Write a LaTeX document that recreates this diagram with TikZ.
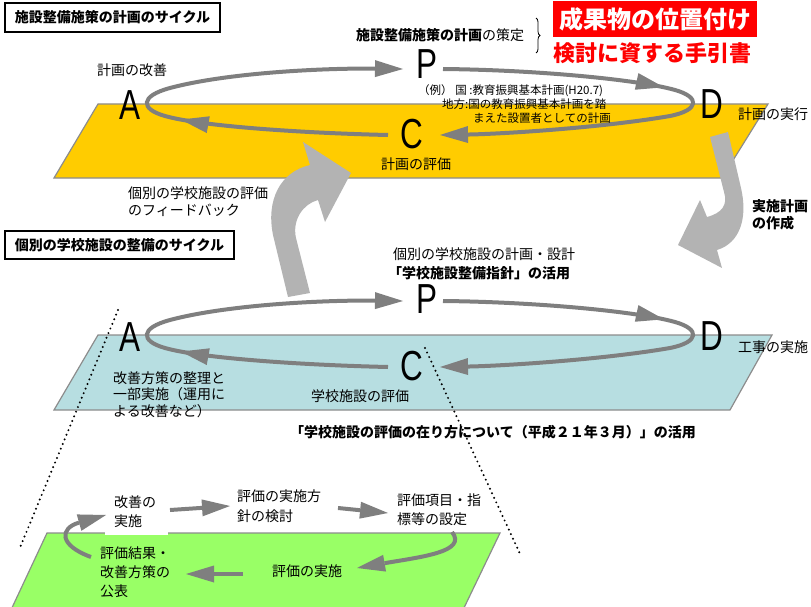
\documentclass[tikz,border=0pt]{standalone}
\usepackage{fontspec}
\setmainfont{Noto Sans CJK JP}
\newfontfamily\latinf{Liberation Sans}
\usetikzlibrary{arrows.meta,decorations.markings,decorations.pathreplacing}
\definecolor{cycgray}{HTML}{7F7F7F}
\definecolor{biggray}{HTML}{B3B3B3}
\definecolor{yel}{HTML}{FFCC00}
\definecolor{blu}{HTML}{B7DEE1}
\definecolor{grn}{HTML}{99FF66}
\definecolor{edgegray}{HTML}{8C8C8C}
\tikzset{
  txt/.style={inner sep=0pt, font=\fontsize{14}{17}\selectfont, align=left},
  smalltxt/.style={inner sep=0pt, font=\fontsize{11.5}{14}\selectfont, anchor=west},
  letter/.style={inner sep=0pt, font=\latinf\fontsize{42}{42}\selectfont},
  titlebox/.style={draw, line width=1.2pt, inner sep=0pt, font=\bfseries\fontsize{14}{17}\selectfont},
  plane/.style={draw=edgegray, line width=1.2pt},
  tip/.tip={Triangle[length=28pt,width=17pt,line width=0pt]},
  cycarrow/.style={draw=cycgray, line width=4pt, -tip},
  midarrow/.style={postaction=decorate, decoration={markings, mark=at position #1 with {\arrow{tip}}}},
  dotline/.style={line width=2.2pt, dash pattern=on 0pt off 5pt, line cap=round},
}
\begin{document}
\begin{tikzpicture}[x=1pt,y=-1pt]
\useasboundingbox (0,0) rectangle (811,607);

% planes
\draw[plane, fill=yel] (98,104) -- (768,104) -- (722,178) -- (54,178) -- cycle;
\draw[plane, fill=blu] (98,335) -- (772,335) -- (730,410) -- (54,410) -- cycle;
\draw[plane, fill=grn] (47,533) -- (500,533) -- (462,612) -- (10,612) -- cycle;

% dotted lines
\coordinate (dl1) at (118,310);
\coordinate (dl2) at (19,550);
\coordinate (dr1) at (425,348);
\coordinate (dr2) at (521,556);
\draw[dotline] (dl1) -- (dl2);
\draw[dotline] (dr1) -- (dr2);

% big gray arrows
\fill[biggray] (288,297) -- (273,235) .. controls (266,200) and (280,172) .. (310,165)
  -- (303,142) -- (351,173) -- (325,222) -- (318,200)
  .. controls (303,204) and (292,220) .. (296,238) -- (310,293) -- cycle;
\fill[biggray] (710,137) -- (728,132) -- (741,188) .. controls (748,218) and (740,243) .. (717,250)
  -- (722,268) -- (678,245) -- (700,200) -- (707,217)
  .. controls (722,213) and (728,205) .. (724,192) -- cycle;

% title boxes
\node[titlebox, minimum width=215pt, minimum height=29pt] (title1) at (112.5,17.5) {施設整備施策の計画のサイクル};
\node[titlebox, minimum width=229pt, minimum height=28pt] (title2) at (119.5,245) {個別の学校施設の整備のサイクル};

% top right
\node[fill=red, text=white, inner sep=0pt, minimum width=204pt, minimum height=36pt,
      font=\bfseries\fontsize{24}{26}\selectfont] (seika) at (655,19) {成果物の位置付け};
\node[text=red, inner sep=0pt, font=\bfseries\fontsize{22}{24}\selectfont] (tebiki) at (652,53) {検討に資する手引書};
\node[txt] (sakutei) at (440,35) {{\bfseries 施設整備施策の計画}の策定};
\coordinate (br1) at (536,18);
\coordinate (br2) at (536,53);
\draw[line width=0.8pt, decorate, decoration={brace, amplitude=4pt}] (br1) -- (br2);

% ---------- top cycle ----------
\node[letter] (A1) at (130,105) {\scalebox{0.75}[1]{A}};
\node[letter] (P1) at (427,64) {\scalebox{0.75}[1]{P}};
\node[letter] (D1) at (712,104) {\scalebox{0.75}[1]{D}};
\node[letter] (C1) at (412,134) {\scalebox{0.75}[1]{C}};
\coordinate (c1a) at (388,135);
\coordinate (c1b) at (403,69);
\coordinate (c1c) at (443,69);
\coordinate (c1d) at (440,135);
\draw[cycarrow, midarrow=208pt] (c1a) .. controls (300,133) and (200,126) .. (165,116)
   .. controls (140,109) and (140,96) .. (170,88) .. controls (230,72) and (330,68) .. (c1b);
\draw[cycarrow, midarrow=222pt] (c1c) .. controls (540,70) and (640,80) .. (675,90)
   .. controls (700,97) and (700,110) .. (670,116) .. controls (600,128) and (500,134) .. (c1d);

\node[txt] (kaizen) at (132,70) {計画の改善};
\node[smalltxt] (rei1) at (418,90.5) {（例） 国 :教育振興基本計画(H20.7)};
\node[smalltxt] (rei2) at (442,104.5) {地方:国の教育振興基本計画を踏};
\node[smalltxt] (rei3) at (473,118.5) {まえた設置者としての計画};
\node[txt, anchor=west] (jikko) at (738,114) {計画の実行};
\node[txt] (hyoka1) at (416,164) {計画の評価};
\node[txt, anchor=west] (feedback) at (128,201.5) {個別の学校施設の評価\\のフィードバック};
\node[txt, anchor=west, font=\bfseries\fontsize{14}{17}\selectfont] (sakusei) at (752,214.5) {実施計画\\の作成};

% ---------- middle cycle ----------
\node[txt, anchor=west] (keikaku2) at (393,254) {個別の学校施設の計画・設計};
\node[txt, anchor=west, font=\bfseries\fontsize{14}{17}\selectfont] (shishin) at (388,273) {「学校施設整備指針」の活用};
\node[letter] (A2) at (130,337) {\scalebox{0.75}[1]{A}};
\node[letter] (P2) at (427,299) {\scalebox{0.75}[1]{P}};
\node[letter] (D2) at (712,336) {\scalebox{0.75}[1]{D}};
\node[letter] (C2) at (412,366) {\scalebox{0.75}[1]{C}};
\begin{scope}[shift={(0,232)}]
\coordinate (c2a) at (388,135);
\coordinate (c2b) at (403,69);
\coordinate (c2c) at (443,69);
\coordinate (c2d) at (440,135);
\draw[cycarrow, midarrow=208pt] (c2a) .. controls (300,133) and (200,126) .. (165,116)
   .. controls (140,109) and (140,96) .. (170,88) .. controls (230,72) and (330,68) .. (c2b);
\draw[cycarrow, midarrow=222pt] (c2c) .. controls (540,70) and (640,80) .. (675,90)
   .. controls (700,97) and (700,110) .. (670,116) .. controls (600,128) and (500,134) .. (c2d);
\end{scope}
\node[txt, anchor=north west, font=\fontsize{14}{16.5}\selectfont] (seiri) at (113,371) {改善方策の整理と\\一部実施（運用に\\よる改善など）};
\node[txt] (hyoka2) at (360,396) {学校施設の評価};
\node[txt, anchor=west] (koji) at (738,347) {工事の実施};
\node[txt, anchor=west, font=\bfseries\fontsize{14}{17}\selectfont] (arikata) at (290,432) {「学校施設の評価の在り方について（平成２１年３月）」の活用};

% ---------- bottom cycle ----------
\fill[white] (105,488) rectangle (168,534.5);
\node[txt, anchor=north west, font=\fontsize{14}{19}\selectfont] (b1) at (114,496) {改善の\\実施};
\node[txt, anchor=north west, font=\fontsize{14}{20}\selectfont] (b2) at (237,489) {評価の実施方\\針の検討};
\node[txt, anchor=north west, font=\fontsize{14}{18.5}\selectfont] (b3) at (397,494) {評価項目・指\\標等の設定};
\node[txt, anchor=west] (b4) at (272,571) {評価の実施};
\node[txt, anchor=north west, font=\fontsize{14}{19}\selectfont] (b5) at (100,547) {評価結果・\\改善方策の\\公表};

\coordinate (e1a) at (170,510);
\coordinate (e1b) at (230,506);
\coordinate (e2a) at (338,508);
\coordinate (e2b) at (388,513);
\coordinate (e3a) at (452,532);
\coordinate (e3b) at (357,568);
\coordinate (e4a) at (243,574);
\coordinate (e4b) at (186,574);
\coordinate (e5a) at (91,557);
\coordinate (e5b) at (106,515);
\draw[cycarrow] (e1a) -- (e1b);
\draw[cycarrow] (e2a) -- (e2b);
\draw[cycarrow] (e3a) .. controls (468,552) and (420,557) .. (e3b);
\draw[cycarrow] (e4a) -- (e4b);
\draw[cycarrow] (e5a) .. controls (58,545) and (60,528) .. (e5b);
\end{tikzpicture}
\end{document}
